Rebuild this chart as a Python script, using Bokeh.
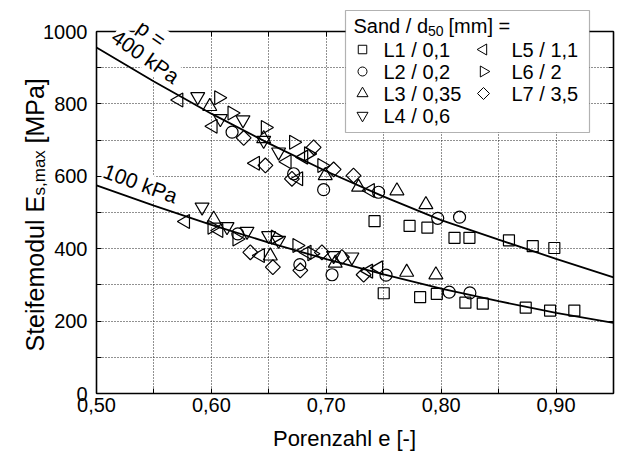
import math
from bokeh.plotting import figure
from bokeh.models import LinearAxis, FixedTicker, CustomJSTickFormatter, Label, BoxAnnotation
from bokeh.embed import file_html
from bokeh.resources import INLINE

FONT = "Liberation Sans"

# ---------------- data ----------------
curve_e = [0.50, 0.55, 0.60, 0.65, 0.70, 0.75, 0.80, 0.85, 0.90, 0.95]
curve_400 = [956, 862, 773, 691, 614, 544, 479, 425, 372, 321]
curve_100 = [575, 519, 466, 417, 371, 329, 290, 255, 223, 195]

l1_e = [0.742, 0.7725, 0.788, 0.8116, 0.8246, 0.859, 0.8797, 0.8985,
        0.750, 0.7817, 0.7962, 0.8211, 0.8362, 0.8736, 0.8948, 0.9159]
l1_E = [476, 463, 458, 430, 430, 423, 407, 402,
        277, 266, 275, 251, 248, 237, 229, 229]

l2_e = [0.618, 0.6716, 0.6977, 0.7455, 0.797, 0.816,
        0.623, 0.677, 0.705, 0.752, 0.807, 0.825]
l2_E = [722, 607, 563, 556, 484, 487,
        441, 356, 328, 327, 280, 278]

l3_e = [0.5986, 0.6455, 0.6991, 0.7281, 0.7615, 0.7867,
        0.602, 0.6513, 0.7078, 0.770, 0.7954]
l3_E = [793, 704, 602, 570, 560, 522,
        482, 380, 360, 335, 328]

l4_e = [0.5881, 0.6078, 0.6275, 0.6455, 0.6585,
        0.5919, 0.6136, 0.631, 0.6498, 0.6585, 0.7064, 0.7223]
l4_E = [820, 759, 756, 699, 667,
        515, 461, 448, 436, 423, 381, 377]

l5_e = [0.5716, 0.6014, 0.6383, 0.6658, 0.6759, 0.6803, 0.7383,
        0.5774, 0.6064, 0.6426, 0.6832, 0.7368, 0.7455]
l5_E = [811, 738, 636, 640, 593, 653, 561,
        475, 450, 381, 390, 338, 347]

l6_e = [0.6064, 0.618, 0.647, 0.6716, 0.6846, 0.6962,
        0.6006, 0.6223, 0.6557, 0.6745, 0.6875]
l6_E = [817, 775, 735, 694, 662, 630,
        459, 427, 432, 409, 386]

l7_e = [0.6281, 0.647, 0.6701, 0.689, 0.7064, 0.7237,
        0.6339, 0.6535, 0.6774, 0.6962, 0.7136, 0.7325]
l7_E = [706, 630, 593, 680, 619, 602,
        390, 349, 340, 390, 377, 328]

legend_labels = ["L1 / 0,1", "L2 / 0,2", "L3 / 0,35", "L4 / 0,6",
                 "L5 / 1,1", "L6 / 2", "L7 / 3,5"]

x_ticks = [0.50, 0.60, 0.70, 0.80, 0.90]
x_minor = [0.55, 0.65, 0.75, 0.85, 0.95]
y_ticks = [0, 200, 400, 600, 800, 1000]
y_minor = [100, 300, 500, 700, 900]

# ---------------- layout ----------------
W, H = 624, 459
FL, FR, FT, FB = 96, 613, 31, 393   # plot-box edges in px
X0, X1, Y0, Y1 = 0.5, 0.95, 0.0, 1000.0

def dx(px):
    return X0 + (px - FL) * (X1 - X0) / (FR - FL)

def dy(py):
    return Y0 + (FB - py) * (Y1 - Y0) / (FB - FT)

# frame covers the whole canvas; axes are placed at fixed data locations
p = figure(width=W, height=H, x_range=(dx(0), dx(W)), y_range=(dy(H), dy(0)),
           toolbar_location=None, output_backend="svg",
           min_border=0, min_border_left=0, min_border_right=0,
           min_border_top=0, min_border_bottom=0)
p.outline_line_color = None
p.background_fill_color = "white"
p.border_fill_color = "white"

xt = FixedTicker(ticks=x_ticks, minor_ticks=x_minor)
yt = FixedTicker(ticks=y_ticks, minor_ticks=y_minor)

def style_axis(ax, labels=True):
    ax.axis_line_width = 1.6
    ax.axis_line_color = "black"
    ax.major_tick_in = 5
    ax.major_tick_out = 0
    ax.minor_tick_in = 5
    ax.minor_tick_out = 0
    ax.major_tick_line_color = "black"
    ax.minor_tick_line_color = "black"
    ax.major_tick_line_width = 1
    ax.minor_tick_line_width = 1
    ax.major_label_text_font = FONT
    ax.major_label_text_font_size = "20px"
    ax.major_label_text_color = "black"
    if not labels:
        ax.formatter = CustomJSTickFormatter(code="return ''")
        ax.major_label_text_font_size = "0px"
        ax.major_label_standoff = 0

xa = p.xaxis[0]
xa.ticker = xt
xa.formatter = CustomJSTickFormatter(code="return tick.toFixed(2).replace('.', ',');")
xa.fixed_location = Y0
xa.bounds = (X0, X1)
style_axis(xa)
xa.major_label_standoff = 4

ya = p.yaxis[0]
ya.ticker = yt
ya.fixed_location = X0
ya.bounds = (Y0, Y1)
style_axis(ya)
ya.major_label_standoff = 9

top = LinearAxis(ticker=xt, fixed_location=Y1, bounds=(X0, X1))
style_axis(top, labels=False)
p.add_layout(top, "above")
right = LinearAxis(ticker=yt, fixed_location=X1, bounds=(Y0, Y1))
style_axis(right, labels=False)
p.add_layout(right, "right")

gx, gy = p.xgrid[0], p.ygrid[0]
gx.ticker = xt
gy.ticker = yt
gx.bounds = (X0, X1)
gy.bounds = (Y0, Y1)
gx.cross_bounds = (Y0, Y1)
gy.cross_bounds = (X0, X1)
for g in (gx, gy):
    g.grid_line_color = "#222222"
    g.grid_line_dash = "1 2"
    g.grid_line_width = 1
    g.minor_grid_line_color = "#222222"
    g.minor_grid_line_dash = "1 2"
    g.minor_grid_line_width = 1

# curves
p.line(curve_e, curve_400, line_color="black", line_width=1.8)
p.line(curve_e, curve_100, line_color="black", line_width=1.8)

# markers
series = [
    (l1_e, l1_E, "square", 0.0, 11),
    (l2_e, l2_E, "circle", 0.0, 12),
    (l3_e, l3_E, "triangle", 0.0, 14),
    (l4_e, l4_E, "inverted_triangle", 0.0, 14),
    (l5_e, l5_E, "triangle", math.pi / 2, 14),
    (l6_e, l6_E, "triangle", -math.pi / 2, 14),
    (l7_e, l7_E, "square", math.pi / 4, 10.5),
]
for xs, ys, mk, ang, sz in series:
    p.scatter(xs, ys, marker=mk, angle=ang, size=sz, fill_color=None,
              line_color="black", line_width=1.2)

# curve labels
def add_label(text, px, py, angle_deg, size="21px"):
    p.add_layout(Label(x=dx(px), y=dy(py), text=text, angle=math.radians(angle_deg),
                       text_align="center", text_baseline="middle",
                       text_font=FONT, text_font_size=size, text_color="black",
                       background_fill_color="white"))

add_label("p =", 151, 33, -35)
add_label("400 kPa", 145, 56, -35)
add_label("100 kPa", 140, 183, -20)

# legend box
p.add_layout(BoxAnnotation(left=dx(345), right=dx(589), top=dy(10), bottom=dy(132),
                           fill_color="white", fill_alpha=1.0,
                           line_color="black", line_width=1.2))

def txt(text, px, py, size="20px", xo=0, yo=0, align="left", baseline="middle", angle=0.0):
    p.add_layout(Label(x=dx(px), y=dy(py), x_offset=xo, y_offset=yo, text=text,
                       text_font=FONT, text_font_size=size, text_color="black",
                       text_align=align, text_baseline=baseline, angle=angle))

# legend title with subscript
txt("Sand / d", 353, 25)
txt("50", 353, 25, size="14px", xo=74.5, yo=-5)
txt("[mm] =", 353, 25, xo=95)

row_y = [49, 71, 93, 115]
col_mx = [362, 483]
col_tx = [383, 511]
leg_specs = [
    ("square", 0.0, 8.5), ("circle", 0.0, 9), ("triangle", 0.0, 11),
    ("inverted_triangle", 0.0, 11), ("triangle", math.pi / 2, 11),
    ("triangle", -math.pi / 2, 11), ("square", math.pi / 4, 8.5),
]
for i, (lab, (mk, ang, sz)) in enumerate(zip(legend_labels, leg_specs)):
    col = 0 if i < 4 else 1
    row = i if i < 4 else i - 4
    r = p.scatter([dx(col_mx[col])], [dy(row_y[row])], marker=mk, angle=ang, size=sz,
                  fill_color=None, line_color="black", line_width=1)
    r.level = "overlay"
    txt(lab, col_tx[col], row_y[row])

# axis titles
txt("Porenzahl e [-]", 344, 438, size="22px", align="center")
yl_x, yl_y = 34, 351
txt("Steifemodul E", yl_x, yl_y, size="25px", baseline="alphabetic", angle=math.pi / 2)
txt("s,max", yl_x, yl_y, size="17px", baseline="alphabetic", angle=math.pi / 2, xo=5, yo=156)
txt("[MPa]", yl_x, yl_y, size="25px", baseline="alphabetic", angle=math.pi / 2, yo=208)

open("out.html", "w").write(file_html(p, INLINE))
